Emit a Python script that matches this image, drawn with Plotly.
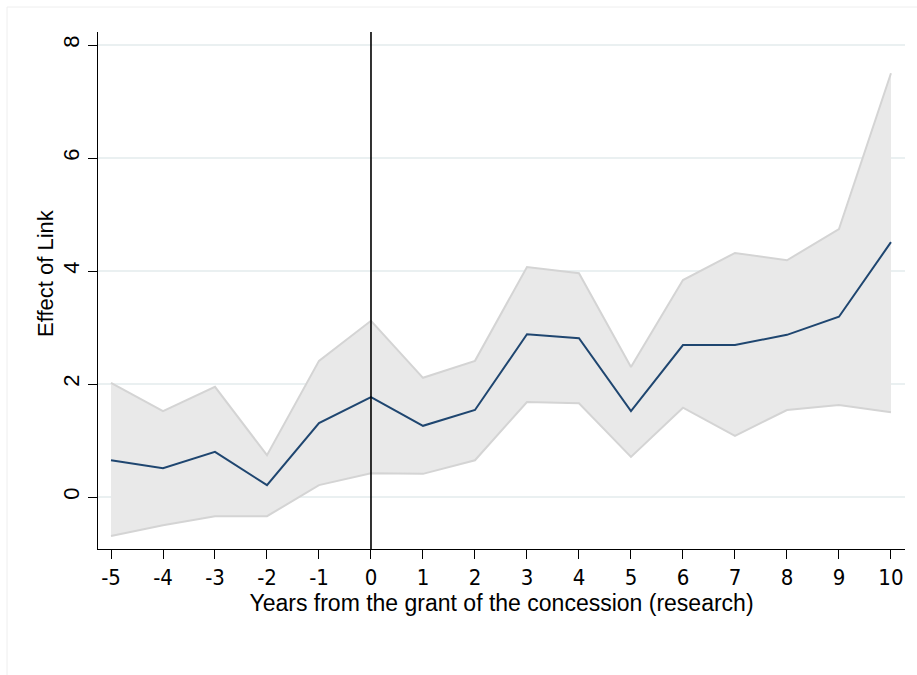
import plotly.graph_objects as go

# Event-study estimates with confidence band
years = [-5, -4, -3, -2, -1, 0, 1, 2, 3, 4, 5, 6, 7, 8, 9, 10]
effect = [0.65, 0.51, 0.80, 0.21, 1.31, 1.77, 1.26, 1.54, 2.88, 2.81, 1.52, 2.69, 2.69, 2.87, 3.19, 4.51]
upper = [2.02, 1.52, 1.95, 0.74, 2.41, 3.12, 2.11, 2.41, 4.07, 3.96, 2.30, 3.84, 4.32, 4.19, 4.74, 7.50]
lower = [-0.69, -0.50, -0.34, -0.34, 0.21, 0.42, 0.41, 0.65, 1.68, 1.66, 0.71, 1.58, 1.08, 1.54, 1.63, 1.50]
y_ticks = [0, 2, 4, 6, 8]

FONT = "Liberation Sans, Arial, Helvetica, sans-serif"
NARROW = "Liberation Sans Narrow, DejaVu Sans Condensed, Liberation Sans, sans-serif"
W, H = 917, 675
ML, MR, MT, MB = 98, 12, 32, 126
pw, ph = W - ML - MR, H - MT - MB

fig = go.Figure()

# Confidence band: upper edge, then lower edge filled up to it
fig.add_trace(go.Scatter(
    x=years, y=upper, mode="lines",
    line=dict(color="#d4d4d4", width=2),
    hoverinfo="skip", showlegend=False,
))
fig.add_trace(go.Scatter(
    x=years, y=lower, mode="lines",
    line=dict(color="#d4d4d4", width=2),
    fill="tonexty", fillcolor="#e9e9e9",
    hoverinfo="skip", showlegend=False,
))
# Point estimates
fig.add_trace(go.Scatter(
    x=years, y=effect, mode="lines",
    line=dict(color="#1f4670", width=2),
    showlegend=False,
))

# Reference line at the grant year
fig.add_shape(type="line", xref="x", yref="paper", x0=0, x1=0, y0=0, y1=1,
              line=dict(color="black", width=1.6), layer="above")

# Faint outer frame of the graph region
fx0 = (7 - ML) / pw
fy1 = 1 + (MT - 7) / ph
fig.add_shape(type="line", xref="paper", yref="paper", x0=fx0, x1=2, y0=fy1, y1=fy1,
              line=dict(color="#eeeeee", width=1), layer="below")
fig.add_shape(type="line", xref="paper", yref="paper", x0=fx0, x1=fx0, y0=-2, y1=fy1,
              line=dict(color="#eeeeee", width=1), layer="below")

# Vertical axis title
fig.add_annotation(
    text="Effect of Link", textangle=-90,
    xref="paper", yref="paper",
    x=(45 - ML) / pw, y=(H - MB - 273) / ph,
    xanchor="center", yanchor="middle", showarrow=False,
    font=dict(size=22, family=FONT, color="black"),
)

fig.update_layout(
    width=W, height=H,
    margin=dict(l=ML, r=MR, t=MT, b=MB),
    paper_bgcolor="white", plot_bgcolor="white",
    font=dict(family=FONT, color="black", size=17),
    xaxis=dict(
        range=[-5.25, 10.27],
        tickmode="array", tickvals=years, ticktext=[str(v) for v in years],
        showgrid=False, zeroline=False,
        showline=True, linecolor="black", linewidth=1,
        ticks="outside", ticklen=9, tickwidth=1, tickcolor="black",
        tickfont=dict(size=22, family=NARROW),
        title=dict(text="Years from the grant of the concession (research)",
                   font=dict(size=23), standoff=2),
    ),
    yaxis=dict(
        range=[-0.92, 8.23],
        tickmode="array", tickvals=y_ticks, ticktext=[str(v) for v in y_ticks],
        tickangle=-90,
        showgrid=True, gridcolor="#eaf0f1", gridwidth=2,
        zeroline=False,
        showline=True, linecolor="black", linewidth=1,
        ticks="outside", ticklen=9, tickwidth=1, tickcolor="black",
        tickfont=dict(size=22),
    ),
)

fig.write_html("out.html")
